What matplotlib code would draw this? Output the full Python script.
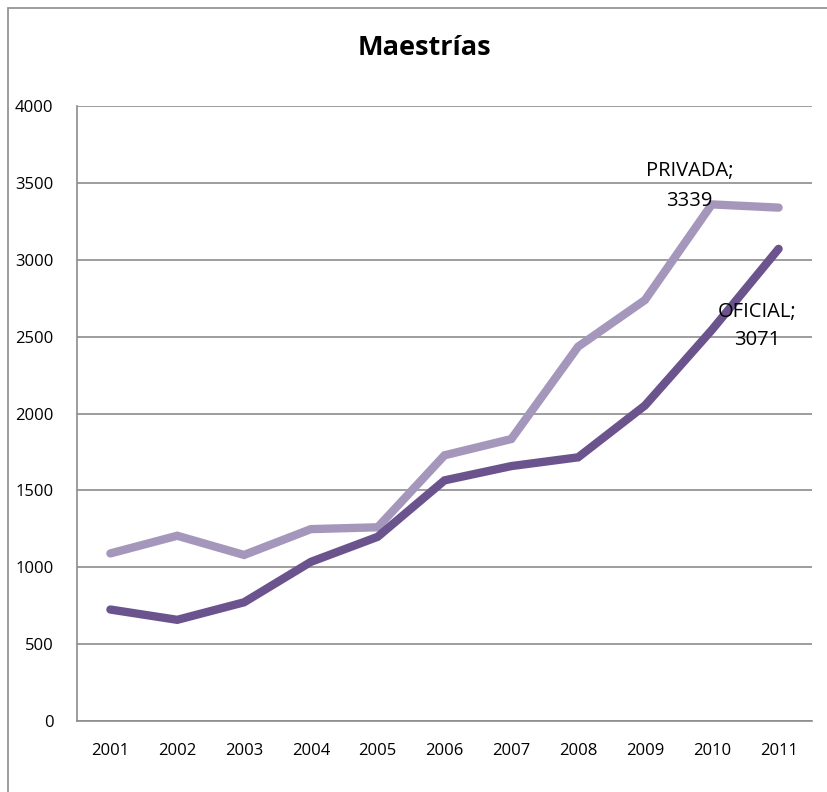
import numpy as np
import matplotlib
matplotlib.use('Agg')
import matplotlib.pyplot as plt
from matplotlib.patches import Rectangle

# Data
years = ['2001', '2002', '2003', '2004', '2005', '2006', '2007', '2008', '2009', '2010', '2011']
privada = [1090, 1205, 1080, 1248, 1260, 1728, 1834, 2435, 2738, 3360, 3339]
oficial = [725, 658, 772, 1035, 1198, 1565, 1658, 1715, 2052, 2543, 3071]
y_ticks = [0, 500, 1000, 1500, 2000, 2500, 3000, 3500, 4000]

plt.rcParams['font.family'] = ['Open Sans', 'DejaVu Sans']

fig = plt.figure(figsize=(8.28, 7.92), dpi=100)
ax = fig.add_axes([77 / 828, 1 - 721 / 792, 735 / 828, 615 / 792])

# Outer chart border (cut off on the right and bottom)
fig.patches.append(Rectangle((8 / 828, -0.05), 1.2, 1 - 8 / 792 + 0.05,
                             transform=fig.transFigure, fill=False,
                             edgecolor='#8c8c8c', linewidth=1.2))

x = np.arange(len(years))
ax.plot(x, privada, color='#a597bc', linewidth=6, solid_capstyle='round',
        solid_joinstyle='miter', zorder=3)
ax.plot(x, oficial, color='#6b548e', linewidth=6, solid_capstyle='round',
        solid_joinstyle='miter', zorder=4)

ax.set_xlim(-0.5, len(years) - 0.5)
ax.set_ylim(0, 4000)
ax.set_xticks(x)
ax.set_xticklabels(years)
ax.set_yticks(y_ticks)
ax.tick_params(axis='both', length=0, labelsize=12, colors='black')
ax.tick_params(axis='x', pad=16)
ax.tick_params(axis='y', pad=17)

ax.grid(axis='y', color='#8c8c8c', linewidth=1.2)
ax.set_axisbelow(True)
for s in ['top', 'right']:
    ax.spines[s].set_visible(False)
for s in ['left', 'bottom']:
    ax.spines[s].set_color('#8c8c8c')
    ax.spines[s].set_linewidth(1.2)

# Data labels on the last points
ax.text(8.67, 3480, 'PRIVADA;\n' + str(privada[-1]), ha='center', va='center',
        fontsize=14.5, linespacing=1.65, zorder=5)
ax.text(9.68, 2570, 'OFICIAL;\n' + str(oficial[-1]), ha='center', va='center',
        fontsize=14.5, linespacing=1.55, zorder=5)

fig.text(424 / 828, 1 - 48 / 792, 'Maestrías', ha='center', va='center',
         fontsize=19.5, fontweight='bold')

fig.savefig('out.png', dpi=100)
